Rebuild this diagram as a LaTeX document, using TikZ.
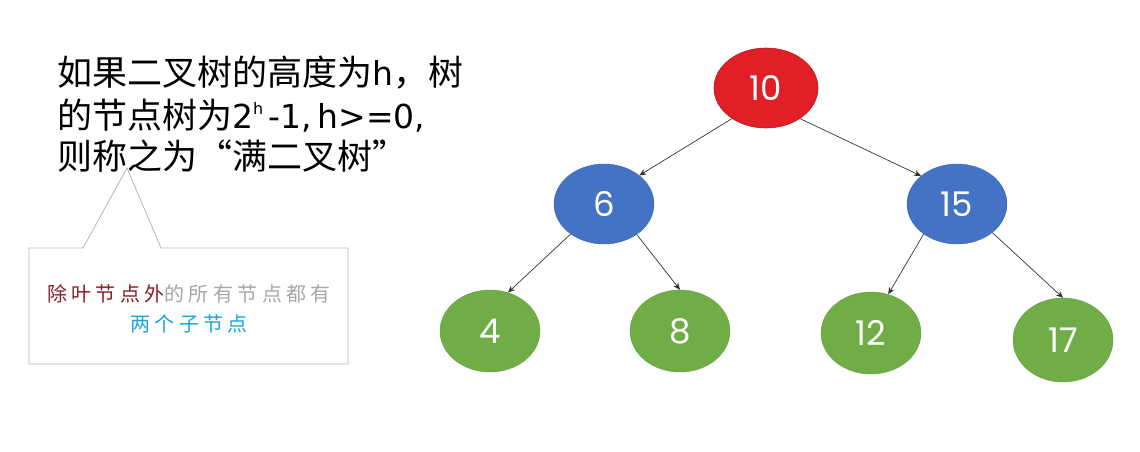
\documentclass[tikz,border=0pt]{standalone}
\usepackage{fontspec}
\setmainfont{Noto Sans CJK SC}
\newfontfamily\cjk{Noto Sans CJK SC}
\newfontfamily\cjksp[LetterSpace=22]{Noto Sans CJK SC}
\newfontfamily\numfont{Poppins}
\newfontfamily\latfont{DejaVu Sans}
\usetikzlibrary{shapes.geometric,arrows.meta}
\definecolor{nred}{HTML}{E01F26}
\definecolor{nblue}{HTML}{4472C4}
\definecolor{ngreen}{HTML}{70AD47}
\definecolor{cdred}{HTML}{8B1C24}
\definecolor{cgray}{HTML}{A6A6A6}
\definecolor{ccyan}{HTML}{1AA3DA}
\definecolor{boxgray}{HTML}{B4B4B4}
\newcommand{\lat}[1]{{\latfont\fontsize{33}{33}\selectfont #1}}
\tikzset{
  tnode/.style={ellipse, minimum width=100pt, minimum height=80pt, inner sep=0pt,
    text=white, font=\numfont\fontsize{34}{34}\selectfont},
  rednode/.style={tnode, fill=nred, draw=nred!80!black, line width=0.6pt},
  bluenode/.style={tnode, fill=nblue, draw=nblue!90!black, line width=0.4pt},
  greennode/.style={tnode, fill=ngreen, draw=ngreen!90!black, line width=0.4pt},
  edge/.style={-{Stealth[length=7pt,width=6pt]}, draw=black!80, line width=0.7pt},
  bigtext/.style={anchor=base west, inner sep=0pt, font=\cjk\fontsize{35}{35}\selectfont},
}
\begin{document}
\begin{tikzpicture}[x=1pt,y=-1pt]
\useasboundingbox (0,0) rectangle (1140,451);
% main statement
\node[bigtext] (l1) at (57,85) {如果二叉树的高度为\lat{h}，树};
\node[bigtext] (l2) at (57,128) {的节点树为\lat{2\raisebox{0.42em}{\fontsize{16}{16}\selectfont h}\,-1,\,h>=0,}};
\node[bigtext] (l3) at (57,169) {则称之为“满二叉树”};
% callout
\draw[boxgray, line width=0.8pt] (29,248) -- (83,248) -- (127,168) -- (161,248) -- (348,248) -- (348,364) -- (29,364) -- cycle;
\node[align=center, inner sep=0pt, font=\cjksp\fontsize{20}{30}\selectfont] (note) at (189,309)
  {\textcolor{cdred}{除叶节点外}\textcolor{cgray}{的所有节点都有}\\\textcolor{ccyan}{两个子节点}};
% tree
\node[rednode, minimum width=104pt] (n10) at (766,88) {10};
\node[bluenode] (n6) at (604,204) {6};
\node[bluenode] (n15) at (957,204) {15};
\node[greennode, minimum height=82pt] (n4) at (490,331) {4};
\node[greennode, minimum height=82pt] (n8) at (680,331) {8};
\node[greennode, minimum height=82pt] (n12) at (871,333) {12};
\node[greennode, minimum height=84pt] (n17) at (1063,340) {17};
\draw[edge] (n10.222) -- (n6.39);
\draw[edge] (n10.318) -- (n15.142);
\draw[edge] (n6.222) -- (n4.65);
\draw[edge] (n6.317) -- (n8.90);
\draw[edge] (n15.222) -- (n12.66);
\draw[edge] (n15.321) -- (n17.90);
\end{tikzpicture}
\end{document}
